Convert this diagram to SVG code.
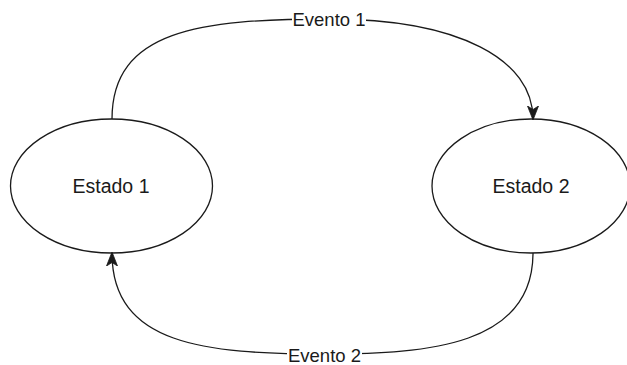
<svg xmlns="http://www.w3.org/2000/svg" width="627" height="365" viewBox="0 0 627 365">
  <style>
    .state ellipse { fill: #ffffff; stroke: #1a1a1a; stroke-width: 1.3; }
    .state text { font-family: "Liberation Sans", Arial, sans-serif; font-size: 19.5px; fill: #1a1a1a; text-anchor: middle; }
    .edge path { fill: none; stroke: #1a1a1a; stroke-width: 1.3; }
    .label rect { fill: #ffffff; }
    .label text { font-family: "Liberation Sans", Arial, sans-serif; font-size: 18.5px; fill: #1a1a1a; text-anchor: middle; }
  </style>
  <defs>
    <marker id="arrow" viewBox="0 0 14 12" refX="13" refY="6" markerWidth="14" markerHeight="12" markerUnits="userSpaceOnUse" orient="auto">
      <path d="M0,0.5 L14,6 L0,11.5 L3.5,6 Z" fill="#1a1a1a" stroke="#1a1a1a" stroke-width="0.8" stroke-linejoin="miter"/>
    </marker>
  </defs>
  <rect width="627" height="365" fill="#ffffff"/>

  <g id="estado-1" class="state">
    <ellipse cx="111.5" cy="186" rx="101" ry="67"/>
    <text x="111" y="193">Estado 1</text>
  </g>

  <g id="estado-2" class="state">
    <ellipse cx="531" cy="186" rx="99" ry="67"/>
    <text x="531" y="193">Estado 2</text>
  </g>

  <g id="connectors" class="edge">
    <!-- Evento 1: Estado 1 -> Estado 2 over the top -->
    <path d="M112,119 C112,30 200,19 329,19 C460,19 533,60 533,119" marker-end="url(#arrow)"/>
    <!-- Evento 2: Estado 2 -> Estado 1 along the bottom -->
    <path d="M533,253 C533,345 430,354 325,354 C205,354 112,345 112,253" marker-end="url(#arrow)"/>
    <g class="label">
      <rect x="292" y="11" width="74" height="17"/>
      <text x="329" y="26">Evento 1</text>
    </g>
    <g class="label">
      <rect x="287" y="346" width="75" height="17"/>
      <text x="324.5" y="361.5">Evento 2</text>
    </g>
  </g>
</svg>
